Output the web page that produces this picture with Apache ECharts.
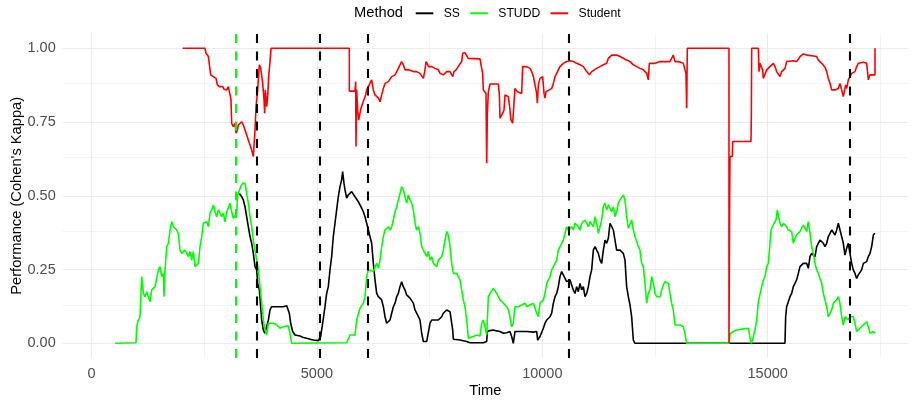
<!DOCTYPE html>
<html>
<head>
<meta charset="utf-8">
<script src="https://cdn.jsdelivr.net/npm/echarts@6/dist/echarts.min.js"></script>
<style>html,body{margin:0;padding:0;background:#fff}#c{width:912px;height:401px}</style>
</head>
<body>
<div id="c"></div>
<script>
// ---- data ----
const ssTime = [3280,3331,3368,3405,3442,3479,3516,3553,3590,3627,3664,3686,3723,3753,3775,3812,3849,3886,3923,3960,3997,4034,4071,4108,4145,4182,4256,4330,4366,4388,4418,4462,4514,4551,4625,4699,4773,4847,4921,5031,5083,5128,5179,5216,5253,5290,5327,5364,5401,5438,5475,5512,5549,5571,5601,5623,5660,5697,5734,5771,5808,5845,5882,5919,5956,5993,6030,6067,6104,6141,6177,6215,6252,6289,6326,6363,6400,6437,6474,6511,6548,6585,6622,6659,6696,6733,6770,6806,6843,6880,6917,6954,6991,7028,7065,7102,7139,7176,7213,7250,7287,7324,7361,7435,7472,7509,7546,7583,7620,7657,7694,7731,7768,7805,7842,7879,7916,7953,7990,8012,8027,8174,8322,8396,8692,8766,8781,8840,8914,8988,9062,9136,9210,9283,9320,9357,9394,9505,9653,9801,9875,9897,9949,9986,10023,10060,10097,10171,10208,10245,10282,10319,10355,10392,10429,10466,10503,10540,10577,10614,10651,10688,10725,10762,10799,10836,10873,10910,10947,10984,11021,11058,11095,11132,11169,11206,11243,11280,11317,11354,11391,11428,11465,11502,11539,11576,11612,11649,11686,11723,11760,11797,11834,11871,11908,11945,11982,12019,12056,15383,15398,15420,15457,15494,15531,15568,15605,15642,15679,15716,15753,15790,15827,15864,15901,15938,15975,16012,16049,16086,16123,16160,16197,16234,16271,16308,16345,16382,16419,16456,16493,16530,16566,16603,16640,16677,16714,16751,16788,16825,16862,16899,16936,16973,17010,17047,17084,17121,17158,17195,17232,17269,17306,17343,17380];
const ssKappa = [.508,.497,.486,.463,.429,.395,.362,.339,.305,.260,.249,.203,.181,.124,.079,.045,.034,.028,.079,.113,.124,.130,.124,.130,.124,.119,.124,.127,.124,.102,.068,.040,.028,.023,.025,.020,.017,.014,.011,.009,.023,.068,.124,.169,.192,.249,.294,.362,.407,.452,.497,.531,.554,.582,.542,.520,.492,.503,.508,.514,.508,.497,.492,.480,.469,.458,.446,.429,.407,.384,.379,.339,.271,.215,.169,.158,.164,.147,.124,.090,.068,.062,.079,.102,.124,.136,.158,.169,.192,.209,.192,.181,.164,.158,.153,.153,.136,.113,.102,.096,.079,.034,.006,.006,.011,.068,.079,.073,.079,.073,.079,.085,.090,.102,.107,.113,.111,.107,.102,.045,.014,.011,.006,.002,.002,.006,.040,.043,.045,.042,.040,.034,.036,.040,.023,0,.040,.040,.040,.038,.040,.011,.023,.028,.051,.068,.079,.090,.102,.136,.158,.169,.192,.226,.243,.232,.226,.209,.203,.215,.198,.181,.169,.192,.175,.203,.181,.192,.158,.169,.192,.226,.249,.316,.328,.316,.305,.282,.271,.316,.350,.339,.356,.407,.412,.384,.350,.316,.322,.316,.311,.305,.282,.192,.158,.130,.090,.011,0,0,.090,.124,.130,.158,.169,.192,.203,.215,.237,.260,.266,.271,.266,.271,.254,.294,.305,.305,.294,.328,.339,.350,.345,.339,.328,.339,.362,.367,.384,.379,.367,.384,.407,.401,.362,.339,.299,.322,.339,.305,.271,.249,.237,.220,.232,.226,.249,.271,.271,.277,.294,.305,.328,.367,.373];

const studdTime = [522,987,1002,1039,1076,1113,1150,1187,1224,1261,1298,1335,1372,1409,1446,1483,1520,1557,1594,1608,1631,1668,1705,1742,1779,1816,1852,1889,1926,1963,2000,2037,2074,2111,2148,2185,2222,2259,2296,2333,2370,2407,2444,2481,2518,2555,2592,2629,2666,2703,2740,2777,2814,2851,2888,2925,2962,2999,3036,3072,3109,3146,3183,3220,3243,3280,3309,3353,3405,3442,3479,3516,3553,3590,3627,3664,3701,3738,3775,3812,3849,3886,3923,3960,4033,4107,4181,4255,4366,4403,4440,5660,5734,5845,5882,5956,6030,6067,6104,6141,6178,6252,6326,6363,6400,6437,6474,6511,6548,6585,6622,6659,6696,6733,6770,6806,6843,6880,6917,6954,6991,7028,7065,7102,7139,7176,7213,7250,7287,7324,7361,7398,7435,7472,7509,7546,7583,7620,7657,7694,7731,7768,7805,7842,7879,7916,7953,7990,8027,8063,8100,8137,8174,8211,8248,8285,8322,8359,8396,8470,8544,8618,8655,8692,8729,8766,8803,8840,8877,8914,8951,8988,9025,9062,9099,9136,9173,9210,9247,9283,9320,9357,9394,9431,9468,9505,9542,9579,9616,9653,9690,9727,9801,9875,9912,9949,10023,10060,10097,10134,10171,10208,10245,10282,10319,10355,10392,10429,10466,10503,10540,10577,10614,10651,10688,10725,10762,10799,10836,10873,10910,10947,10984,11021,11058,11095,11132,11169,11206,11243,11280,11317,11354,11391,11428,11465,11502,11539,11576,11612,11649,11686,11723,11760,11797,11834,11871,11908,11945,11982,12019,12056,12093,12130,12167,12204,12241,12278,12315,12352,12389,12426,12463,12500,12537,12574,12611,12648,12685,12722,12759,12796,12832,12869,12906,12943,13054,13128,13165,13202,14148,14163,14237,14311,14385,14459,14570,14607,14629,14666,14696,14718,14755,14792,14829,14866,14903,14940,14977,15014,15051,15073,15110,15139,15184,15213,15235,15272,15309,15346,15383,15420,15457,15494,15531,15568,15605,15642,15679,15716,15753,15790,15827,15864,15901,15938,15975,16012,16049,16086,16123,16160,16197,16234,16271,16308,16345,16382,16419,16456,16493,16530,16566,16603,16640,16677,16714,16751,16788,16825,16862,16899,16936,16973,17010,17047,17084,17121,17158,17195,17232,17269,17306,17343,17380];
const studdKappa = [0,.002,.056,.079,.090,.226,.169,.158,.175,.158,.141,.181,.186,.192,.198,.249,.260,.226,.237,.158,.249,.328,.339,.384,.412,.395,.390,.384,.373,.316,.305,.311,.316,.322,.294,.311,.282,.311,.260,.254,.271,.328,.362,.407,.407,.412,.395,.441,.452,.469,.446,.429,.452,.441,.429,.441,.412,.446,.458,.475,.446,.424,.418,.441,.503,.497,.531,.542,.542,.508,.475,.429,.395,.350,.316,.282,.249,.192,.136,.079,.045,.028,.068,.073,.068,.062,.051,.056,.059,.034,0,.002,.028,.028,.079,.119,.136,.158,.226,.249,.254,.243,.271,.254,.282,.328,.362,.384,.379,.395,.384,.395,.418,.446,.463,.486,.508,.531,.520,.497,.475,.503,.486,.475,.452,.407,.384,.395,.373,.328,.316,.305,.294,.311,.282,.294,.271,.277,.260,.282,.288,.294,.316,.350,.379,.367,.328,.271,.237,.232,.237,.226,.215,.181,.147,.124,.079,.017,.011,.023,.028,.025,.068,.079,.056,.028,.158,.169,.175,.186,.181,.169,.158,.147,.153,.136,.141,.124,.113,.090,.056,.068,.124,.130,.124,.119,.130,.124,.136,.124,.119,.130,.136,.102,.090,.136,.147,.169,.203,.215,.226,.249,.249,.271,.282,.316,.328,.339,.350,.373,.395,.384,.384,.395,.384,.407,.412,.395,.384,.407,.412,.418,.407,.395,.412,.407,.395,.429,.407,.373,.395,.418,.463,.475,.452,.469,.475,.446,.463,.429,.446,.475,.486,.492,.503,.486,.429,.390,.395,.418,.384,.362,.356,.328,.316,.271,.260,.203,.136,.169,.181,.226,.203,.169,.158,.164,.158,.181,.198,.209,.215,.203,.169,.136,.113,.062,.062,.056,.034,0,0,.032,.040,.045,.047,.049,.051,.045,0,.011,.034,.045,.079,.141,.136,.192,.215,.226,.260,.271,.339,.384,.384,.407,.418,.452,.446,.407,.395,.407,.412,.395,.384,.390,.379,.339,.356,.367,.373,.379,.373,.401,.395,.379,.412,.373,.328,.305,.271,.249,.237,.232,.203,.169,.147,.124,.090,.102,.113,.136,.141,.147,.158,.136,.090,.062,.090,.096,.079,.090,.096,.090,.068,.040,.045,.051,.051,.062,.068,.073,.056,.034,.040,.040,.034];

const studentTime = [2022,2518,2540,2592,2629,2644,2703,2762,2791,2836,2866,2910,2940,2962,2999,3036,3072,3095,3109,3146,3183,3206,3235,3257,3294,3331,3368,3405,3442,3479,3516,3553,3590,3627,3649,3679,3723,3753,3797,3827,3841,3856,3886,3908,3930,3960,3982,5719,5719,5845,5860,5867,5882,5904,5926,5956,5978,6015,6052,6081,6104,6141,6177,6215,6252,6289,6326,6363,6400,6437,6474,6511,6585,6622,6659,6696,6733,6770,6806,6843,6880,6917,6954,6991,7028,7065,7139,7176,7213,7250,7287,7324,7361,7398,7420,7450,7479,7509,7546,7583,7620,7657,7694,7731,7768,7805,7842,7879,7916,7953,7990,8012,8041,8086,8115,8160,8211,8234,8285,8322,8359,8396,8618,8640,8677,8692,8729,8751,8766,8781,8803,8840,9025,9047,9062,9099,9121,9151,9173,9210,9247,9283,9305,9342,9372,9394,9431,9446,9490,9542,9564,9653,9727,9764,9801,9838,9875,9890,9912,9949,9986,10008,10038,10060,10082,10111,10156,10208,10245,10282,10319,10355,10392,10429,10466,10540,10577,10614,10651,10688,10762,10836,10910,10984,11043,11095,11132,11206,11280,11354,11428,11465,11502,11539,11576,11649,11723,11797,11871,11945,12019,12093,12167,12241,12278,12315,12352,12374,12500,12611,12685,12722,12832,12869,12906,12943,13017,13128,13165,13187,13202,13217,14141,14141,14156,14163,14215,14222,14629,14637,14644,14792,14807,14829,14851,14888,14903,14940,14977,15014,15051,15088,15125,15162,15198,15235,15272,15309,15346,15383,15420,15457,15568,15642,15679,15716,15753,15790,15864,16012,16086,16123,16160,16197,16234,16271,16308,16345,16382,16419,16456,16493,16530,16566,16603,16640,16677,16699,16729,16751,16788,16825,16862,16899,16936,16973,17010,17121,17195,17232,17254,17269,17380,17380];
const studentKappa = [1,1,.983,.972,.972,.910,.904,.898,.876,.870,.864,.870,.861,.864,.859,.870,.864,.825,.746,.734,.746,.712,.723,.740,.746,.751,.740,.723,.706,.689,.672,.655,.633,.723,.802,.847,.944,.932,.881,.825,.780,.859,.802,.836,.904,.955,1,1,.855,.855,.887,.667,.859,.791,.757,.763,.797,.814,.814,.842,.859,.870,.881,.893,.859,.842,.836,.831,.819,.842,.864,.881,.887,.893,.904,.898,.910,.921,.932,.944,.955,.944,.927,.921,.927,.921,.921,.915,.921,.927,.915,.915,.898,.927,.955,.949,.938,.944,.938,.944,.932,.938,.927,.915,.921,.910,.915,.921,.917,.921,.927,.904,.921,.927,.921,.944,.955,.983,.985,.981,.966,.964,.964,.944,.915,.859,.853,.847,.610,.780,.853,.879,.879,.842,.763,.768,.780,.791,.842,.847,.836,.791,.757,.746,.744,.864,.864,.853,.847,.847,.938,.938,.932,.921,.904,.876,.847,.814,.876,.898,.893,.904,.847,.831,.853,.859,.859,.864,.881,.904,.915,.927,.938,.944,.949,.955,.960,.958,.963,.955,.949,.944,.938,.921,.910,.921,.924,.932,.938,.944,.949,.966,.972,.977,.983,.977,.972,.966,.960,.955,.944,.938,.932,.927,.921,.915,.893,.949,.949,.955,.955,.949,.955,.966,.977,.955,.955,.949,.944,.915,.797,1,1,0,.497,.633,.633,.684,.684,.780,1,1,.921,.949,.949,.927,.898,.904,.927,.932,.938,.944,.949,.938,.921,.915,.904,.921,.921,.932,.955,.960,.958,.955,.963,.972,.977,.981,.977,.974,.972,.960,.955,.949,.944,.936,.921,.898,.881,.859,.853,.859,.853,.864,.881,.859,.836,.831,.876,.864,.893,.898,.915,.910,.921,.938,.949,.953,.949,.893,.887,.910,.910,1];

// drift detections (dashed vertical lines)
const ssDrifts = [3664, 5054, 6126, 10577, 16825];
const studdDrifts = [3206];

// axis ticks
const xTicks = [0, 5000, 10000, 15000];
const xMinor = [2500, 7500, 12500, 17500];
const yTicks = [0, 0.25, 0.5, 0.75, 1];
const yMinor = [0.125, 0.375, 0.625, 0.875];

// ---- chart ----
const zip = (a, b) => a.map((v, i) => [v, b[i]]);
const FONT = 'Liberation Sans, Arial, sans-serif';
const chart = echarts.init(document.getElementById('c'), null, {renderer: 'canvas'});

const gridLines = [].concat(
  xTicks.map(v => ({xAxis: v, lineStyle: {width: 1.1}})),
  xMinor.map(v => ({xAxis: v, lineStyle: {width: 0.6}})),
  yTicks.map(v => ({yAxis: v, lineStyle: {width: 1.1}})),
  yMinor.map(v => ({yAxis: v, lineStyle: {width: 0.6}}))
);

const vline = (vals, color) => ({
  silent: true, symbol: 'none', z: 6, label: {show: false},
  lineStyle: {color: color, width: 2.1, type: [9, 8.5], opacity: 1},
  emphasis: {disabled: true},
  data: vals.map(v => ({xAxis: v}))
});

chart.setOption({
  animation: false,
  backgroundColor: '#ffffff',
  title: {
    text: 'Method', left: 354, top: 5, padding: 0,
    textStyle: {fontFamily: FONT, fontSize: 14.7, fontWeight: 'normal', color: '#000', lineHeight: 16}
  },
  legend: {
    data: ['SS', 'STUDD', 'Student'],
    left: 415.7, top: 6.3, padding: 0,
    icon: 'rect', itemWidth: 17.6, itemHeight: 2, itemGap: 10.3,
    textStyle: {fontFamily: FONT, fontSize: 12.2, color: '#000', padding: [0, 0, 0, 5.4], lineHeight: 14}
  },
  grid: {left: 62.7, right: 4, top: 33.55, bottom: 42.95, containLabel: false, outerBoundsMode: 'none'},
  xAxis: {
    type: 'value', min: -639, max: 18112,
    name: 'Time', nameLocation: 'middle', nameGap: 25, nameMoveOverlap: false,
    nameTextStyle: {fontFamily: FONT, fontSize: 14.7, color: '#000'},
    axisLine: {show: false}, axisTick: {show: false}, splitLine: {show: false},
    axisLabel: {customValues: xTicks, margin: 8, fontFamily: FONT, fontSize: 14.5, color: '#4d4d4d',
      formatter: v => String(v)}
  },
  yAxis: {
    type: 'value', min: -0.05, max: 1.05,
    name: "Performance (Cohen's Kappa)", nameLocation: 'middle', nameGap: 38, nameMoveOverlap: false,
    nameTextStyle: {fontFamily: FONT, fontSize: 14.7, color: '#000'},
    axisLine: {show: false}, axisTick: {show: false}, splitLine: {show: false},
    axisLabel: {customValues: yTicks, margin: 7, fontFamily: FONT, fontSize: 14.5, color: '#4d4d4d',
      formatter: v => v.toFixed(2)}
  },
  series: [
    {
      name: 'grid', type: 'line', data: [], silent: true, z: 0,
      markLine: {silent: true, symbol: 'none', z: 0, label: {show: false}, emphasis: {disabled: true},
        lineStyle: {color: '#ebebeb', type: 'solid', opacity: 1}, data: gridLines}
    },
    {
      name: 'SS', type: 'line', data: zip(ssTime, ssKappa), showSymbol: false, symbol: 'none',
      lineStyle: {color: '#000000', width: 1.6}, itemStyle: {color: '#000000'}, z: 2,
      markLine: vline(ssDrifts, '#000000')
    },
    {
      name: 'STUDD', type: 'line', data: zip(studdTime, studdKappa), showSymbol: false, symbol: 'none',
      lineStyle: {color: '#00ff00', width: 1.6}, itemStyle: {color: '#00ff00'}, z: 2,
      markLine: vline(studdDrifts, '#00ff00')
    },
    {
      name: 'Student', type: 'line', data: zip(studentTime, studentKappa), showSymbol: false, symbol: 'none',
      lineStyle: {color: '#ff0000', width: 1.6}, itemStyle: {color: '#ff0000'}, z: 2
    }
  ]
});
</script>
</body>
</html>
